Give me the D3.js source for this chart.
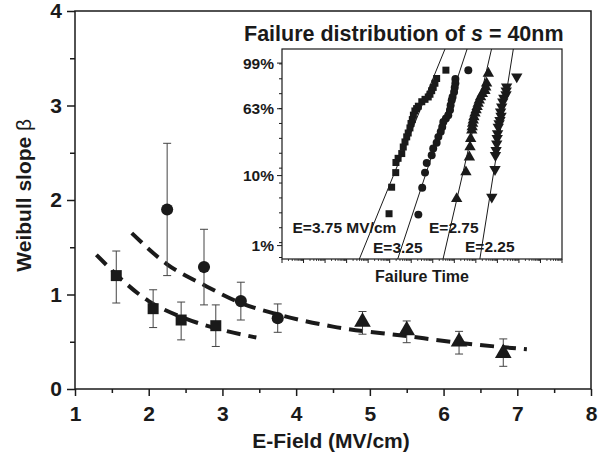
<!DOCTYPE html>
<html lang="en">
  <head>
    <meta charset="utf-8" />
    <title>Weibull slope vs E-field</title>
    <script src="https://d3js.org/d3.v7.min.js"></script>
    <style>
      body { margin: 0; background: #fff; }
      text { font-family: "Liberation Sans", Arial, sans-serif; font-weight: bold; fill: #1a1a1a; }
      .axis path, .axis line { stroke: #1a1a1a; }
    </style>
  </head>
  <body>
    <svg width="609" height="457"></svg>
    <script>
      // main plot: Weibull slope per field, three series
      const squareE = [1.56, 2.06, 2.44, 2.91];
      const squareBeta = [1.2, 0.85, 0.73, 0.67];
      const squareLo = [0.91, 0.65, 0.52, 0.45];
      const squareHi = [1.46, 1.05, 0.92, 0.89];

      const circleE = [2.25, 2.75, 3.25, 3.75];
      const circleBeta = [1.9, 1.29, 0.93, 0.75];
      const circleLo = [1.2, 0.89, 0.73, 0.6];
      const circleHi = [2.6, 1.69, 1.13, 0.9];

      const triE = [4.9, 5.5, 6.21, 6.81];
      const triBeta = [0.71, 0.62, 0.5, 0.38];
      const triLo = [0.58, 0.49, 0.37, 0.24];
      const triHi = [0.82, 0.72, 0.61, 0.53];

      // dashed trend lines
      const trendA = [[1.29, 1.42], [2.0, 0.93], [2.5, 0.745], [3.0, 0.625], [3.46, 0.545]];
      const trendB = [[1.77, 1.65], [2.25, 1.32], [2.75, 1.1], [3.25, 0.91], [3.75, 0.79],
                      [4.5, 0.66], [5.5, 0.56], [6.2, 0.49], [7.13, 0.42]];

      const xTicks = [1, 2, 3, 4, 5, 6, 7, 8];
      const xMinor = [1.5, 2.5, 3.5, 4.5, 5.5, 6.5, 7.5];
      const yTicks = [0, 1, 2, 3, 4];
      const yMinor = [0.5, 1.5, 2.5, 3.5];

      // inset: failure distributions, [log10 time, ln(-ln(1-F))]
      const inset375 = [[7.61, 1.29], [7.18, 1.01], [7.1, 0.85], [7.02, 0.71], [6.95, 0.6], [6.87, 0.48],
        [6.79, 0.39], [6.64, 0.31], [6.49, 0.23], [6.33, 0.08], [6.25, 0.0], [6.17, -0.08], [6.1, -0.22],
        [6.05, -0.37], [5.99, -0.5], [5.94, -0.65], [5.86, -0.82], [5.79, -0.95], [5.71, -1.12],
        [5.63, -1.29], [5.56, -1.51], [5.39, -1.67], [5.29, -1.81], [5.28, -2.15], [5.09, -2.64], [4.97, -3.53]];
      const inset325 = [[8.65, 1.29], [8.05, 0.99], [8.05, 0.85], [8.02, 0.71], [7.99, 0.56], [7.92, 0.39],
        [7.88, 0.28], [7.83, 0.11], [7.8, -0.05], [7.72, -0.22], [7.61, -0.33], [7.49, -0.45], [7.44, -0.62],
        [7.37, -0.78], [7.26, -0.95], [7.18, -1.15], [7.02, -1.34], [6.95, -1.57], [6.72, -1.83],
        [6.64, -2.15], [6.51, -2.66], [6.33, -3.56]];
      const inset275 = [[9.58, 1.18], [9.5, 0.85], [9.46, 0.72], [9.42, 0.6], [9.3, 0.5], [9.22, 0.39],
        [9.16, 0.28], [9.11, 0.17], [9.06, 0.06], [9.01, -0.05], [8.96, -0.16], [8.91, -0.28], [8.88, -0.39],
        [8.85, -0.5], [8.83, -0.62], [8.81, -0.73], [8.76, -1.01], [8.73, -1.29], [8.7, -1.63],
        [8.54, -2.13], [8.11, -3.03]];
      const inset225 = [[10.9, 1.07], [10.43, 0.73], [10.41, 0.6], [10.4, 0.47], [10.3, 0.35], [10.25, 0.23],
        [10.2, 0.06], [10.15, -0.11], [10.17, -0.25], [10.12, -0.39], [10.08, -0.5], [10.04, -0.62],
        [10.01, -0.84], [9.99, -1.0], [9.97, -1.18], [9.94, -1.4], [9.91, -1.57], [9.89, -2.04], [9.74, -2.97]];

      // Weibull fits in the inset: slope and log10 of the 63% time
      const fitBeta = [0.77, 0.95, 1.36, 1.97];
      const fitLogEta = [6.44, 7.68, 9.09, 10.3];

      const insetPctTicks = [99, 63, 10, 1];
      const insetMinorW = d3.range(-5, 2, 0.5);
      const insetDecades = d3.range(0, 14);

      const svg = d3.select("svg");
      const margin = { top: 11, right: 18, bottom: 68, left: 75 };
      const W = 609, H = 457;

      const x = d3.scaleLinear().domain([1, 8]).range([margin.left, W - margin.right]);
      const y = d3.scaleLinear().domain([0, 4]).range([H - margin.bottom, margin.top]);

      // frame
      svg.append("rect")
        .attr("x", x(1)).attr("y", y(4))
        .attr("width", x(8) - x(1)).attr("height", y(0) - y(4))
        .attr("fill", "none").attr("stroke", "#1a1a1a").attr("stroke-width", 1.5);

      const xAxis = svg.append("g").attr("class", "axis")
        .attr("transform", `translate(0,${y(0)})`)
        .call(d3.axisBottom(x).tickValues(xTicks).tickSize(7).tickPadding(10).tickFormat(d3.format("d")));
      svg.append("g").attr("class", "axis")
        .attr("transform", `translate(0,${y(0)})`)
        .call(d3.axisBottom(x).tickValues(xMinor).tickSize(4).tickFormat(""));
      const yAxis = svg.append("g").attr("class", "axis")
        .attr("transform", `translate(${x(1)},0)`)
        .call(d3.axisLeft(y).tickValues(yTicks).tickSize(8).tickPadding(5).tickFormat(d3.format("d")));
      svg.append("g").attr("class", "axis")
        .attr("transform", `translate(${x(1)},0)`)
        .call(d3.axisLeft(y).tickValues(yMinor).tickSize(5).tickFormat(""));

      svg.selectAll(".axis .domain").remove();
      svg.selectAll(".axis line").attr("stroke-width", 1.5);
      xAxis.selectAll("text").attr("font-size", 21).attr("font-family", null);
      yAxis.selectAll("text").attr("font-size", 21).attr("font-family", null);

      svg.append("text")
        .attr("x", x(4.5) - 2).attr("y", 448)
        .attr("text-anchor", "middle").attr("font-size", 21)
        .text("E-Field (MV/cm)");
      const yl = svg.append("text")
        .attr("transform", `translate(31,${y(2.05)}) rotate(-90)`)
        .attr("text-anchor", "middle").attr("font-size", 21);
      yl.append("tspan").text("Weibull slope ");
      yl.append("tspan").attr("font-weight", "normal").text("β");

      // trend lines
      const trendLine = d3.line().x((d) => x(d[0])).y((d) => y(d[1])).curve(d3.curveMonotoneX);
      [trendA, trendB].forEach((t) => {
        svg.append("path").attr("d", trendLine(t))
          .attr("fill", "none").attr("stroke", "#1a1a1a")
          .attr("stroke-width", 4).attr("stroke-dasharray", "14,8");
      });

      const series = [
        { e: squareE, b: squareBeta, lo: squareLo, hi: squareHi, sym: d3.symbolSquare, size: 121 },
        { e: circleE, b: circleBeta, lo: circleLo, hi: circleHi, sym: d3.symbolCircle, size: 115 },
        { e: triE, b: triBeta, lo: triLo, hi: triHi, sym: d3.symbolTriangle, size: 120 },
      ];

      series.forEach((s) => {
        const g = svg.append("g");
        s.e.forEach((e, i) => {
          const cx = x(e);
          g.append("line").attr("x1", cx).attr("x2", cx).attr("y1", y(s.lo[i])).attr("y2", y(s.hi[i]))
            .attr("stroke", "#444").attr("stroke-width", 1);
          [s.lo[i], s.hi[i]].forEach((v) => {
            g.append("line").attr("x1", cx - 4).attr("x2", cx + 4).attr("y1", y(v)).attr("y2", y(v))
              .attr("stroke", "#444").attr("stroke-width", 1);
          });
        });
        g.selectAll("path.mk").data(s.e).join("path")
          .attr("class", "mk")
          .attr("d", d3.symbol().type(s.sym).size(s.size))
          .attr("transform", (d, i) => `translate(${x(d)},${y(s.b[i])})`)
          .attr("fill", "#1a1a1a");
      });

      // ---------- inset ----------
      const ix = d3.scaleLinear().domain([0, 13]).range([282, 562]);
      const iy = d3.scaleLinear().domain([-5.05, 2.0]).range([259, 49]);
      const pctToW = (p) => Math.log(-Math.log(1 - p / 100));

      svg.append("rect")
        .attr("x", ix(0)).attr("y", iy(2.0))
        .attr("width", ix(13) - ix(0)).attr("height", iy(-5.05) - iy(2.0))
        .attr("fill", "#fff").attr("stroke", "#1a1a1a").attr("stroke-width", 1.2);

      svg.append("defs").append("clipPath").attr("id", "insetClip")
        .append("rect").attr("x", ix(0)).attr("y", iy(2.0))
        .attr("width", ix(13) - ix(0)).attr("height", iy(-5.05) - iy(2.0));

      const ig = svg.append("g");
      // y ticks
      ig.selectAll("line.ym").data(insetMinorW).join("line")
        .attr("x1", ix(0) - 3).attr("x2", ix(0))
        .attr("y1", (d) => iy(d)).attr("y2", (d) => iy(d))
        .attr("stroke", "#1a1a1a").attr("stroke-width", 1);
      ig.selectAll("line.yM").data(insetPctTicks).join("line")
        .attr("x1", ix(0) - 5).attr("x2", ix(0))
        .attr("y1", (d) => iy(pctToW(d))).attr("y2", (d) => iy(pctToW(d)))
        .attr("stroke", "#1a1a1a").attr("stroke-width", 1);
      ig.selectAll("text.yl").data(insetPctTicks).join("text")
        .attr("x", ix(0) - 8).attr("y", (d) => iy(pctToW(d)))
        .attr("dy", "0.36em").attr("text-anchor", "end").attr("font-size", 15.5)
        .text((d) => d + "%");

      // x ticks, log decades with minor ticks
      const minorT = [];
      insetDecades.forEach((dec) => {
        if (dec < 13) d3.range(2, 10).forEach((m) => minorT.push(dec + Math.log10(m)));
      });
      ig.selectAll("line.xM").data(insetDecades).join("line")
        .attr("x1", (d) => ix(d)).attr("x2", (d) => ix(d))
        .attr("y1", iy(-5.05)).attr("y2", iy(-5.05) + 4)
        .attr("stroke", "#1a1a1a").attr("stroke-width", 1);
      ig.selectAll("line.xm").data(minorT).join("line")
        .attr("x1", (d) => ix(d)).attr("x2", (d) => ix(d))
        .attr("y1", iy(-5.05)).attr("y2", iy(-5.05) + 2)
        .attr("stroke", "#1a1a1a").attr("stroke-width", 0.8);

      svg.append("text")
        .attr("x", 422).attr("y", 282)
        .attr("text-anchor", "middle").attr("font-size", 16)
        .text("Failure Time");

      const it = svg.append("text").attr("x", 244).attr("y", 41).attr("font-size", 21.5);
      it.append("tspan").text("Failure distribution of ");
      it.append("tspan").attr("font-style", "italic").text("s");
      it.append("tspan").text(" = 40nm");

      const clipped = svg.append("g").attr("clip-path", "url(#insetClip)");
      // fit lines
      fitBeta.forEach((b, i) => {
        const w0 = -5.05, w1 = 2.0;
        const t0 = fitLogEta[i] + w0 / (b * Math.LN10);
        const t1 = fitLogEta[i] + w1 / (b * Math.LN10);
        clipped.append("line")
          .attr("x1", ix(t0)).attr("y1", iy(w0))
          .attr("x2", ix(t1)).attr("y2", iy(w1))
          .attr("stroke", "#1a1a1a").attr("stroke-width", 1);
      });

      const insetSets = [
        { data: inset375, sym: d3.symbolSquare, size: 49, rot: 0 },
        { data: inset325, sym: d3.symbolCircle, size: 50, rot: 0 },
        { data: inset275, sym: d3.symbolTriangle, size: 56, rot: 0 },
        { data: inset225, sym: d3.symbolTriangle, size: 56, rot: 180 },
      ];
      insetSets.forEach((s) => {
        clipped.append("g").selectAll("path").data(s.data).join("path")
          .attr("d", d3.symbol().type(s.sym).size(s.size))
          .attr("transform", (d) => `translate(${ix(d[0])},${iy(d[1])}) rotate(${s.rot})`)
          .attr("fill", "#1a1a1a");
      });

      // field labels in the inset
      const fieldLabels = ["E=3.75 MV/cm", "E=2.75", "E=3.25", "E=2.25"];
      const fieldLabelPos = [[292.5, 233], [429, 233], [373, 253], [465, 252]];
      fieldLabels.forEach((t, i) => {
        svg.append("text")
          .attr("x", fieldLabelPos[i][0]).attr("y", fieldLabelPos[i][1])
          .attr("font-size", 15.5).text(t);
      });
    </script>
  </body>
</html>
